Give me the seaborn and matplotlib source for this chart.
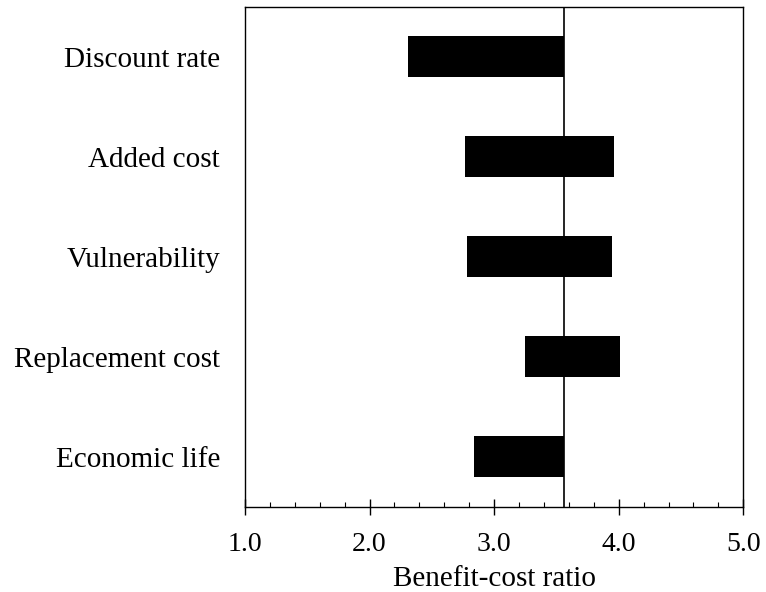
import numpy as np
import pandas as pd
import matplotlib
matplotlib.use("Agg")
import matplotlib.pyplot as plt
import seaborn as sns
from matplotlib.ticker import MultipleLocator, FormatStrFormatter

# Sensitivity ranges of the benefit-cost ratio
factors = ["Discount rate", "Added cost", "Vulnerability", "Replacement cost", "Economic life"]
low_ratio = [2.31, 2.77, 2.78, 3.25, 2.84]
high_ratio = [3.56, 3.96, 3.95, 4.01, 3.56]
base_ratio = 3.56

df = pd.DataFrame({"factor": factors, "low": low_ratio, "high": high_ratio})
df["span"] = df["high"] - df["low"]

sns.set_theme(style="white")
plt.rcParams["font.family"] = ["Liberation Serif", "DejaVu Serif"]
plt.rcParams["text.color"] = "black"
plt.rcParams["axes.labelcolor"] = "black"
plt.rcParams["xtick.color"] = "black"
plt.rcParams["ytick.color"] = "black"

fig = plt.figure(figsize=(7.66, 5.92), dpi=100)
ax = fig.add_axes([0.3198, 0.1436, 0.6505, 0.8446])

# bars span low -> high, seaborn passes left= through to barh
sns.barplot(data=df, x="span", y="factor", order=factors, color="black",
            width=0.41, left=df["low"].values, edgecolor="black", linewidth=0,
            saturation=1, ax=ax)

ax.axvline(base_ratio, color="black", linewidth=1.2, zorder=3)

ax.set_xlim(1.0, 5.0)
ax.set_ylim(4.5, -0.5)
ax.xaxis.set_major_locator(MultipleLocator(1.0))
ax.xaxis.set_minor_locator(MultipleLocator(0.2))
ax.xaxis.set_major_formatter(FormatStrFormatter("%.1f"))

for s in ax.spines.values():
    s.set_visible(True)
    s.set_color("black")
    s.set_linewidth(1.0)

ax.tick_params(axis="x", which="major", direction="inout", length=11.5, width=1.0,
               color="black", labelcolor="black", labelsize=20, pad=12.5, bottom=True)
ax.tick_params(axis="x", which="minor", direction="in", length=3.8, width=0.8,
               color="black", bottom=True)
ax.tick_params(axis="y", length=0, labelsize=21, labelcolor="black", pad=18)

ax.set_xlabel("Benefit-cost ratio", fontsize=21, color="black", labelpad=6)
ax.set_ylabel("")

fig.savefig("out.png", dpi=100)
